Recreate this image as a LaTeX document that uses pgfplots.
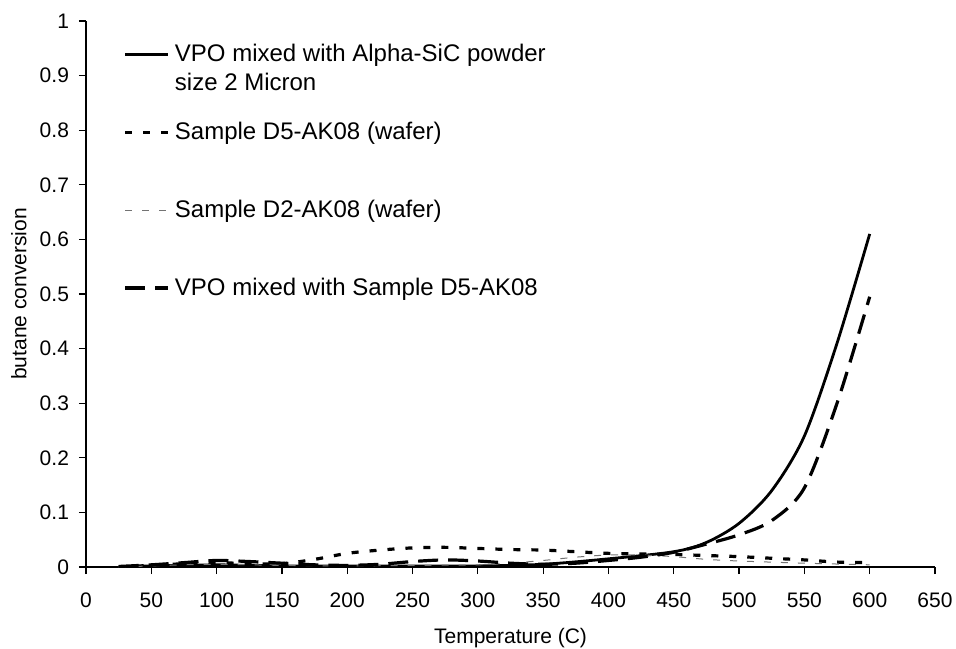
\documentclass[border=0pt]{standalone}
\usepackage{pgfplots}
\pgfplotsset{compat=1.18}
\usepackage{fontspec}
\setmainfont{Liberation Sans}
\begin{document}
\begin{tikzpicture}
\begin{axis}[
  scale only axis, width=424.5pt, height=273pt,
  xmin=0, xmax=650, ymin=0, ymax=1,
  xtick={0,50,100,150,200,250,300,350,400,450,500,550,600,650},
  ytick={0,0.1,0.2,0.3,0.4,0.5,0.6,0.7,0.8,0.9,1},
  yticklabels={0,0.1,0.2,0.3,0.4,0.5,0.6,0.7,0.8,0.9,1},
  axis x line*=bottom, axis y line*=left,
  axis line style={-, black, line width=0.6pt},
  tick style={black, line width=0.6pt},
  major tick length=3.5pt, tick align=outside,
  /pgf/number format/assume math mode=true,
  ticklabel style={font=\fontsize{10.5}{12}\selectfont},
  yticklabel style={xshift=-1.5pt},
  xticklabel style={yshift=-6pt},
  xlabel={Temperature (C)},
  ylabel={butane conversion},
  label style={font=\fontsize{10.5}{12}\selectfont},
  xlabel style={at={(axis description cs:0.5,-0.1392)}, anchor=base},
  ylabel style={at={(axis description cs:-0.079,0.5)}, anchor=center},
  legend cell align=left,
  legend style={draw=none, fill=none, at={(axis description cs:0.044,0.958)}, anchor=north west,
    font=\fontsize{12}{13}\selectfont, row sep=28.7pt, inner sep=0pt,
    nodes={inner sep=0pt, outer sep=0pt}, column sep=2.5pt},
  legend image code/.code={\draw[#1] (0pt,0pt) -- (21.5pt,0pt);},
]
\addplot[black, line width=1.4pt, smooth] coordinates {
(25,0.000) (50,0.002) (75,0.003) (100,0.004) (125,0.003) (150,0.002) (200,0.002) (250,0.002) (300,0.002) (350,0.005) (400,0.015) (450,0.028) (475,0.045) (500,0.08) (525,0.14) (550,0.24) (575,0.41) (600,0.61)};
\addlegendentry{\makebox[0pt][l]{\raisebox{-14.5pt}[0pt][0pt]{size 2 Micron}}VPO mixed with Alpha-SiC powder}
\addplot[black, line width=1.6pt, dash pattern=on 3.5pt off 5.5pt, smooth] coordinates {
(25,0.000) (50,0.003) (75,0.006) (100,0.008) (125,0.006) (150,0.006) (175,0.014) (200,0.025) (225,0.031) (250,0.035) (275,0.036) (300,0.034) (325,0.032) (350,0.031) (375,0.028) (400,0.025) (425,0.024) (450,0.023) (475,0.021) (500,0.019) (525,0.016) (550,0.013) (575,0.009) (600,0.008)};
\addlegendentry{Sample D5-AK08 (wafer)}
\addplot[black!55, line width=0.5pt, dash pattern=on 3.5pt off 5pt, smooth] coordinates {
(25,0.000) (50,0.002) (75,0.004) (100,0.005) (125,0.004) (150,0.003) (200,0.002) (250,0.003) (300,0.004) (325,0.007) (350,0.012) (375,0.018) (400,0.022) (425,0.022) (450,0.019) (475,0.014) (500,0.011) (550,0.007) (600,0.004)};
\addlegendentry{Sample D2-AK08 (wafer)}
\addplot[black, line width=1.6pt, dash pattern=on 10pt off 5pt, smooth] coordinates {
(25,0.001) (50,0.004) (75,0.008) (100,0.012) (125,0.010) (150,0.007) (175,0.004) (200,0.003) (225,0.005) (250,0.010) (275,0.013) (300,0.011) (325,0.007) (350,0.005) (375,0.007) (400,0.012) (425,0.018) (450,0.027) (475,0.042) (500,0.059) (525,0.085) (550,0.145) (575,0.30) (600,0.495)};
\addlegendentry{VPO mixed with Sample D5-AK08}
\end{axis}
\pgfresetboundingbox
\path ([shift={(-43pt,-40.5pt)}]current axis.south west) rectangle ([shift={(10.5pt,10.5pt)}]current axis.north east);
\end{tikzpicture}
\end{document}
